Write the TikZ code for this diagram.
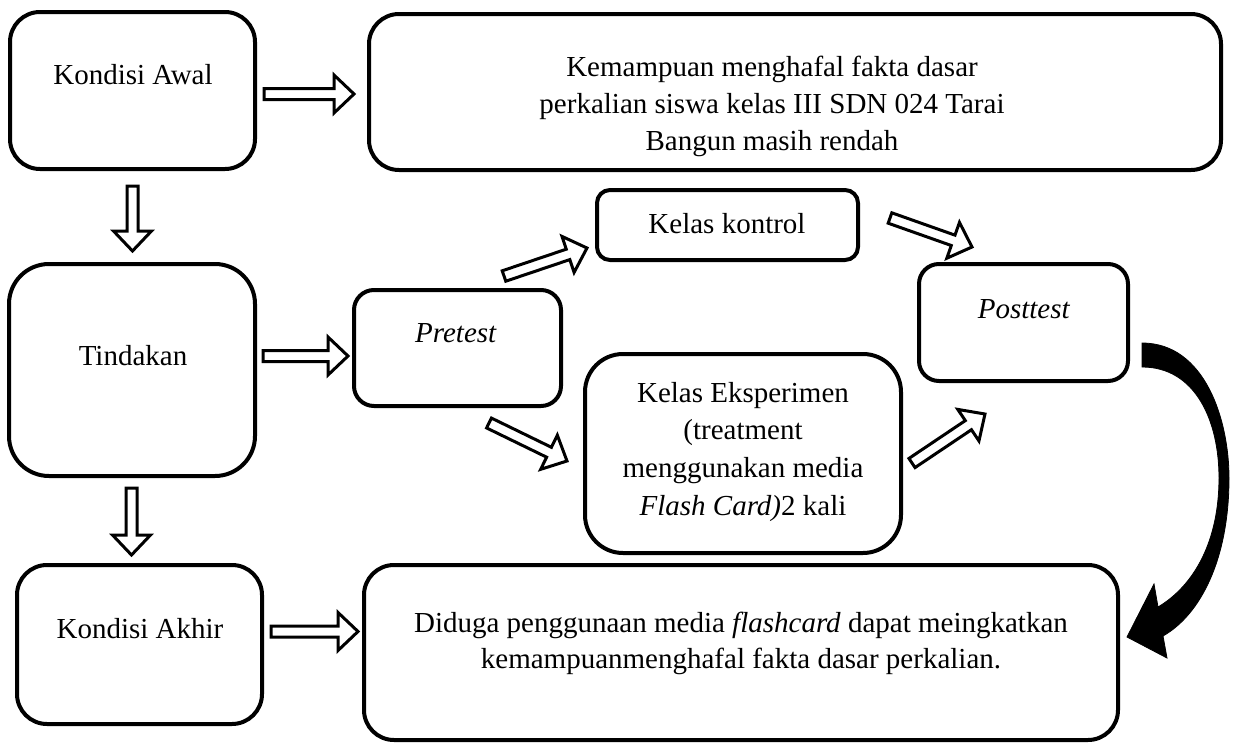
\documentclass[tikz,border=0pt]{standalone}
\usepackage{fontspec}
\setmainfont{Liberation Serif}
\usetikzlibrary{calc}
\tikzset{
  box/.style={draw, line width=4pt, fill=white, inner sep=0pt},
  txt/.style={font=\fontsize{29}{37}\selectfont, inner sep=0pt, anchor=base},
  barrowstyle/.style={draw, fill=white, line width=3pt, line join=miter},
  bigarrow/.style={fill=black, draw=black, line width=0.8pt}
}
\newcommand{\barrow}[2]{%
  \draw[barrowstyle] let \p1=(#1), \p2=(#2),
    \n1={atan2(\y2-\y1,\x2-\x1)}, \n2={veclen(\x2-\x1,\y2-\y1)} in
    [shift={(\p1)}, rotate=\n1]
    (0pt,-5.5pt) -- ({\n2*1pt-20pt},-5.5pt) -- ({\n2*1pt-20pt},-19pt) -- ({\n2*1pt},0pt)
    -- ({\n2*1pt-20pt},19pt) -- ({\n2*1pt-20pt},5.5pt) -- (0pt,5.5pt) -- cycle;}
\newcommand{\mltext}[1]{\parbox[t]{800pt}{\centering #1}}
\begin{document}
\begin{tikzpicture}[x=1pt,y=-1pt]
\fill[white] (0,0) rectangle (1235,747);
\useasboundingbox (0,0) rectangle (1235,747);

% boxes
\node[box, minimum width=245, minimum height=157, rounded corners=30] (awal) at (132.5,90.5) {};
\node[box, minimum width=852, minimum height=156, rounded corners=30] (kem) at (795,92) {};
\node[box, minimum width=246, minimum height=212, rounded corners=40] (tind) at (132,370) {};
\node[box, minimum width=245, minimum height=159, rounded corners=30] (akhir) at (139.5,644.5) {};
\node[box, minimum width=207, minimum height=116, rounded corners=20] (pre) at (457.5,348) {};
\node[box, minimum width=261, minimum height=70, rounded corners=13] (kon) at (727.5,225) {};
\node[box, minimum width=316, minimum height=199, rounded corners=38] (eks) at (743,453.5) {};
\node[box, minimum width=209, minimum height=117, rounded corners=20] (post) at (1023.5,322.5) {};
\node[box, minimum width=754, minimum height=175, rounded corners=30] (dug) at (741,652.5) {};

% texts
\node[txt] (tawal) at (133,84) {Kondisi Awal};
\node[txt] (tkem) at (772,76) {\mltext{Kemampuan menghafal fakta dasar\\perkalian siswa kelas III SDN 024 Tarai\\Bangun masih rendah}};
\node[txt] (ttind) at (133,365) {Tindakan};
\node[txt] (takhir) at (140,638) {Kondisi Akhir};
\node[txt] (tpre) at (456,342) {\textit{Pretest}};
\node[txt] (tkon) at (727,233) {Kelas kontrol};
\node[txt] (tpost) at (1024,318) {\textit{Posttest}};
\node[txt, font=\fontsize{29}{37.7}\selectfont] (teks) at (743,402) {\mltext{Kelas Eksperimen\\(treatment\\menggunakan media\\\textit{Flash Card)}2 kali}};
\node[txt, font=\fontsize{29}{36}\selectfont] (tdug) at (741,632) {\mltext{Diduga penggunaan media \textit{flashcard} dapat meingkatkan\\kemampuanmenghafal fakta dasar perkalian.}};

% arrow end points
\coordinate (a1s) at (264,94);   \coordinate (a1e) at (354,94);
\coordinate (a2s) at (132.5,186); \coordinate (a2e) at (132.5,251);
\coordinate (a3s) at (131.5,488); \coordinate (a3e) at (131.5,555);
\coordinate (a4s) at (263,356);  \coordinate (a4e) at (348,356);
\coordinate (a5s) at (271,631.5); \coordinate (a5e) at (358,631.5);
\coordinate (a6s) at (504,276);  \coordinate (a6e) at (587,248);
\coordinate (a7s) at (489,423);  \coordinate (a7e) at (567,461);
\coordinate (a8s) at (890,218);  \coordinate (a8e) at (972,247);
\coordinate (a9s) at (912,463);  \coordinate (a9e) at (985,414);

\barrow{a1s}{a1e}
\barrow{a2s}{a2e}
\barrow{a3s}{a3e}
\barrow{a4s}{a4e}
\barrow{a5s}{a5e}
\barrow{a6s}{a6e}
\barrow{a7s}{a7e}
\barrow{a8s}{a8e}
\barrow{a9s}{a9e}

% curved arrow from Posttest to Diduga
\coordinate (cs1) at (1142,343);
\coordinate (cs2) at (1142,367);
\coordinate (ctip) at (1127,637);
\fill[bigarrow] (cs1) .. controls (1205,343) and (1229,420) .. (1229,478)
  .. controls (1229,560) and (1200,615) .. (1163,636)
  -- (1167,658) -- (ctip) -- (1154,584) -- (1158,607)
  .. controls (1195,585) and (1219,540) .. (1219,478)
  .. controls (1219,420) and (1195,367) .. (cs2) -- cycle;
\end{tikzpicture}
\end{document}
